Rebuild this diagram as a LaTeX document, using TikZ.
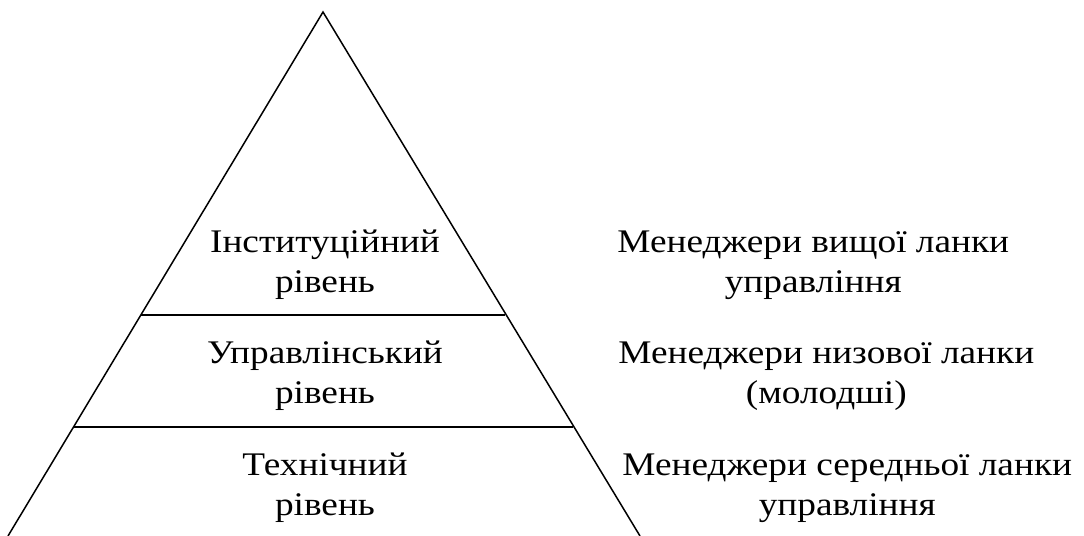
\documentclass[tikz,border=0pt]{standalone}
\usepackage{fontspec}
\setmainfont[FakeStretch=1.13]{Liberation Serif}
\usetikzlibrary{positioning}
\tikzset{
  edgeln/.style={line width=0.75pt, line join=miter},
  lvltext/.style={align=center, inner sep=0pt, font=\fontsize{16.5}{20}\selectfont},
  roletext/.style={align=center, inner sep=0pt, anchor=west, font=\fontsize{16.5}{20}\selectfont},
}
\begin{document}
\begin{tikzpicture}[x=0.5pt, y=-0.5pt]
    \useasboundingbox (0,0) rectangle (1084,536);
    % pyramid corners
    \coordinate (apex) at (323,12);
    \coordinate (bl) at (8,536);
    \coordinate (br) at (640,536);
    \coordinate (midl) at (141,315);
    \coordinate (midr) at (505,315);
    \coordinate (lowl) at (73,427);
    \coordinate (lowr) at (573,427);
    \draw[edgeln] (bl) -- (apex) -- (br);
    \draw[edgeln] (midl) -- (midr);
    \draw[edgeln] (lowl) -- (lowr);
    % levels
    \node[lvltext] (inst) at (325,265) {Інституційний\\рівень};
    \node[lvltext] (upr) at (325,376) {Управлінський\\рівень};
    \node[lvltext] (tech) at (325,488) {Технічний\\рівень};
    % managers
    \node[roletext] (top) at (617,265) {Менеджери вищої ланки\\управління};
    \node[roletext] (low) at (618,376) {Менеджери низової ланки\\(молодші)};
    \node[roletext] (mid) at (622,488) {Менеджери середньої ланки\\управління};
\end{tikzpicture}
\end{document}
